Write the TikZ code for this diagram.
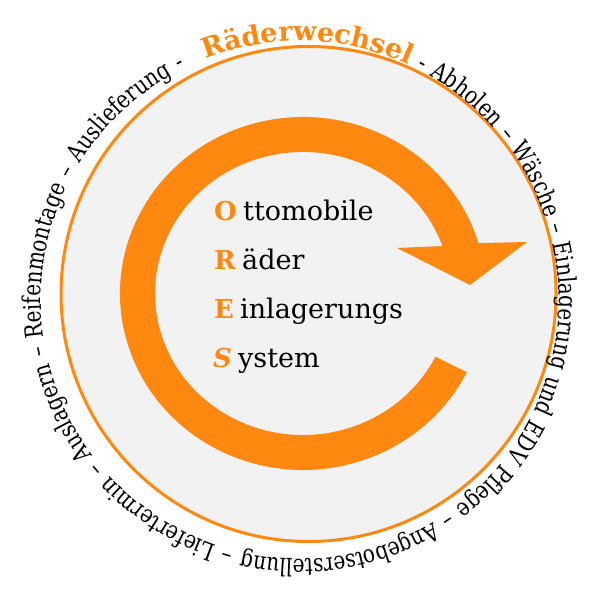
\documentclass[tikz,border=0pt]{standalone}
\usepackage{fontspec}
\setmainfont{DejaVu Serif}
\newfontfamily\circfont[FakeStretch=0.82]{DejaVu Serif}
\usetikzlibrary{decorations.text}
\definecolor{myorange}{HTML}{FF8811}
\definecolor{mygray}{HTML}{F2F2F2}
\begin{document}
\begin{tikzpicture}[x=1pt,y=1pt,
  initial/.style={anchor=base west, text=myorange, font=\bfseries\fontsize{26}{28}\selectfont, inner sep=0pt},
  word/.style={anchor=base west, text=black, font=\fontsize{27}{30}\selectfont, inner sep=0pt},
  ring/.style={fill=myorange}]
\useasboundingbox (0,0) rectangle (597,599);
% outer disc
\node[circle, draw=myorange, fill=mygray, line width=3pt, minimum size=495pt, inner sep=0pt] (disc) at (308.5,305) {};
% circular arrow
\coordinate (C) at (303,305.5);
\fill[ring] ([shift={(C)}]-26.5:148pt and 141.5pt) -- ([shift={(C)}]-26.5:183pt and 176.5pt)
  arc[start angle=-26.5, end angle=-343.4, x radius=183pt, y radius=176.5pt]
  -- (527,357) -- (470,314) -- (397,351)
  -- ([shift={(C)}]19.6:148pt and 141.5pt)
  arc[start angle=-340.4, end angle=-26.5, x radius=148pt, y radius=141.5pt] -- cycle;
% text round the circle
\path[decorate, decoration={text along path, text color=black,
  text align={fit to path stretching spaces},
  text={|\color{myorange}\bfseries\fontsize{27}{30}\selectfont|Räderwechsel|\color{black}\circfont\fontsize{24.5}{26}\selectfont| - Abholen – Wäsche – Einlagerung und EDV Pflege – Angebotserstellung – Liefertermin – Auslagern – Reifenmontage – Auslieferung -}}]
  (300,299) ++(111.5:259pt) arc[start angle=111.5, end angle=-243.7, radius=259pt];
% acronym
\node[initial] (o) at (214,378) {O};
\node[word] (ow) at (243,378) {ttomobile};
\node[initial] (r) at (214,329) {R};
\node[word] (rw) at (242,329) {äder};
\node[initial] (e) at (214,280) {E};
\node[word] (ew) at (240,280) {inlagerungs};
\node[initial, font=\bfseries\itshape\fontsize{26}{28}\selectfont] (s) at (213,231) {S};
\node[word] (sw) at (238,231) {ystem};
\end{tikzpicture}
\end{document}
